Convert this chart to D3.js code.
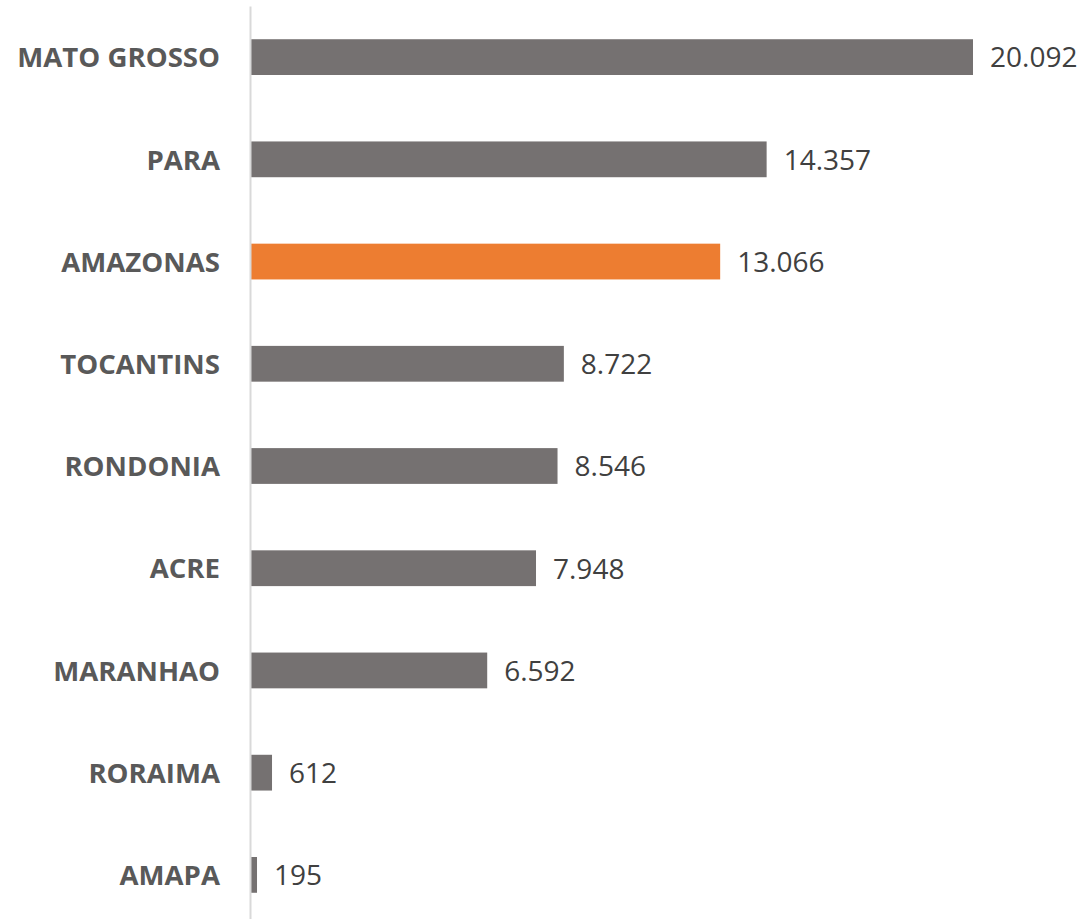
<!DOCTYPE html>
<html>
<head>
<meta charset="utf-8">
<script src="https://cdn.jsdelivr.net/npm/d3@7"></script>
<style>
  body { margin: 0; background: #fff; }
  svg { display: block; }
</style>
</head>
<body>
<svg id="chart"></svg>
<script>
// data
var states = ["MATO GROSSO", "PARA", "AMAZONAS", "TOCANTINS", "RONDONIA", "ACRE", "MARANHAO", "RORAIMA", "AMAPA"];
var values = [20092, 14357, 13066, 8722, 8546, 7948, 6592, 612, 195];
var highlight = ["AMAZONAS"];

var width = 1081,
  height = 919;

var svg = d3.select("#chart")
  .attr("width", width)
  .attr("height", height);

var x = d3.scaleLinear()
  .domain([0, 20092])
  .range([250, 973]);

var y = d3.scaleBand()
  .domain(states)
  .range([6, 926])
  .paddingInner(0.65)
  .paddingOuter(0.325);

var fmt = function (v) {
  return d3.format(",")(v).replace(/,/g, ".");
};

// bars
svg.selectAll("rect.bar")
  .data(states)
  .enter().append("rect")
  .attr("class", "bar")
  .attr("x", x(0))
  .attr("y", function (d) { return y(d); })
  .attr("width", function (d, i) { return x(values[i]) - x(0); })
  .attr("height", y.bandwidth())
  .attr("fill", function (d) { return highlight.indexOf(d) >= 0 ? "#ED7D31" : "#757171"; });

// value labels
svg.selectAll("text.val")
  .data(states)
  .enter().append("text")
  .attr("class", "val")
  .attr("x", function (d, i) { return x(values[i]) + 17; })
  .attr("y", function (d) { return y(d) + y.bandwidth() / 2; })
  .attr("dy", "0.37em")
  .attr("font-family", "'Open Sans', sans-serif")
  .attr("font-size", 28)
  .attr("fill", "#404040")
  .text(function (d, i) { return fmt(values[i]); });

// category axis
var axis = svg.append("g")
  .attr("transform", "translate(" + x(0) + ",0)")
  .call(d3.axisLeft(y).tickSize(0).tickPadding(30));

axis.select(".domain")
  .attr("stroke", "#d9d9d9")
  .attr("stroke-width", 2);

axis.selectAll("text")
  .attr("dy", "0.37em")
  .attr("font-family", "'Open Sans', sans-serif")
  .attr("font-weight", "bold")
  .attr("font-size", 27.6)
  .attr("fill", "#595959");
</script>
</body>
</html>
